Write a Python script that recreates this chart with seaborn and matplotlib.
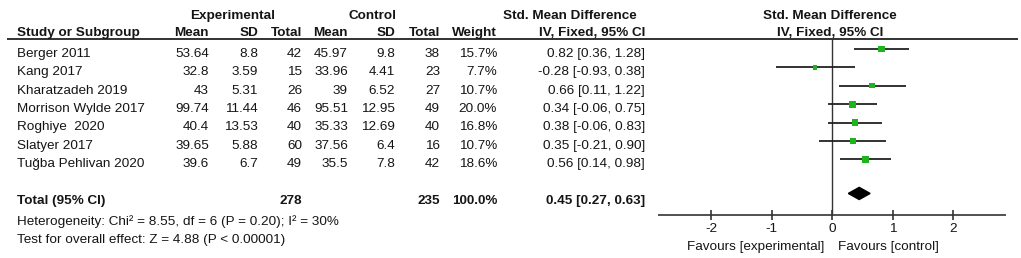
import matplotlib
matplotlib.use("Agg")
import matplotlib.pyplot as plt
import seaborn as sns
import pandas as pd
import numpy as np

studies = ['Berger 2011', 'Kang 2017', 'Kharatzadeh 2019', 'Morrison Wylde 2017',
           'Roghiye  2020', 'Slatyer 2017', 'Tuğba Pehlivan 2020']
exp_mean = [53.64, 32.8, 43, 99.74, 40.4, 39.65, 39.6]
exp_sd = [8.8, 3.59, 5.31, 11.44, 13.53, 5.88, 6.7]
exp_n = [42, 15, 26, 46, 40, 60, 49]
ctl_mean = [45.97, 33.96, 39, 95.51, 35.33, 37.56, 35.5]
ctl_sd = [9.8, 4.41, 6.52, 12.95, 12.69, 6.4, 7.8]
ctl_n = [38, 23, 27, 49, 40, 16, 42]
weight = [15.7, 7.7, 10.7, 20.0, 16.8, 10.7, 18.6]
smd = [0.82, -0.28, 0.66, 0.34, 0.38, 0.35, 0.56]
ci_lo = [0.36, -0.93, 0.11, -0.06, -0.06, -0.21, 0.14]
ci_hi = [1.28, 0.38, 1.22, 0.75, 0.83, 0.90, 0.98]
total_smd, total_lo, total_hi = 0.45, 0.27, 0.63
total_exp_n, total_ctl_n, total_weight = 278, 235, 100.0
het_text = 'Heterogeneity: Chi² = 8.55, df = 6 (P = 0.20); I² = 30%'
test_text = 'Test for overall effect: Z = 4.88 (P < 0.00001)'
ticks = [-2, -1, 0, 1, 2]

df = pd.DataFrame({'study': studies, 'smd': smd, 'lo': ci_lo, 'hi': ci_hi,
                   'weight': weight, 'row': np.arange(len(studies))})
total_row = len(studies) + 1

sns.set_style("white")
plt.rcParams['font.family'] = ['Liberation Sans', 'DejaVu Sans']
fs = 9.7
txt = '#151515'

fig = plt.figure(figsize=(10.21, 2.58), dpi=100)
# row r sits at pixel 49 + 18.4*r
ylim = ((258 - 49) / 18.4, -49 / 18.4)

tab = fig.add_axes([0, 0, 1, 1])
tab.set_xlim(0, 1021)
tab.set_ylim(*ylim)
tab.axis('off')

fp = fig.add_axes([0, 0, 1, 1], sharey=tab)
fp.set_xlim(-832 / 60.5, 189 / 60.5)
fp.patch.set_alpha(0)
fp.axis('off')

# header
tab.text(233, -1.63, 'Experimental', ha='center', va='baseline', fontsize=fs, fontweight='bold', color=txt)
tab.text(372, -1.63, 'Control', ha='center', va='baseline', fontsize=fs, fontweight='bold', color=txt)
tab.text(570, -1.63, 'Std. Mean Difference', ha='center', va='baseline', fontsize=fs, fontweight='bold', color=txt)
tab.text(830, -1.63, 'Std. Mean Difference', ha='center', va='baseline', fontsize=fs, fontweight='bold', color=txt)
hy = -0.71
tab.text(17, hy, 'Study or Subgroup', ha='left', va='baseline', fontsize=fs, fontweight='bold', color=txt)
cols = [209, 258, 302, 348, 395, 440, 497]
for x, lab in zip(cols, ['Mean', 'SD', 'Total', 'Mean', 'SD', 'Total', 'Weight']):
    tab.text(x, hy, lab, ha='right', va='baseline', fontsize=fs, fontweight='bold', color=txt)
tab.text(645, hy, 'IV, Fixed, 95% CI', ha='right', va='baseline', fontsize=fs, fontweight='bold', color=txt)
tab.text(830, hy, 'IV, Fixed, 95% CI', ha='center', va='baseline', fontsize=fs, fontweight='bold', color=txt)
tab.hlines(-0.543, 7, 1018, color='#222222', lw=1.3)

# study rows
for i, r in df.iterrows():
    y = r['row'] + 0.42
    vals = [f"{exp_mean[i]:g}", f"{exp_sd[i]:g}", f"{exp_n[i]}", f"{ctl_mean[i]:g}",
            f"{ctl_sd[i]:g}", f"{ctl_n[i]}", f"{weight[i]:.1f}%"]
    tab.text(17, y, r['study'], ha='left', va='baseline', fontsize=fs, color=txt)
    for x, v in zip(cols, vals):
        tab.text(x, y, v, ha='right', va='baseline', fontsize=fs, color=txt)
    tab.text(645, y, f"{smd[i]:.2f} [{ci_lo[i]:.2f}, {ci_hi[i]:.2f}]", ha='right', va='baseline',
             fontsize=fs, color=txt)

# total row
ty = total_row + 0.42
tab.text(17, ty, 'Total (95% CI)', ha='left', va='baseline', fontsize=fs, fontweight='bold', color=txt)
tab.text(cols[2], ty, f"{total_exp_n}", ha='right', va='baseline', fontsize=fs, fontweight='bold', color=txt)
tab.text(cols[5], ty, f"{total_ctl_n}", ha='right', va='baseline', fontsize=fs, fontweight='bold', color=txt)
tab.text(cols[6], ty, f"{total_weight:.1f}%", ha='right', va='baseline', fontsize=fs, fontweight='bold', color=txt)
tab.text(645, ty, f"{total_smd:.2f} [{total_lo:.2f}, {total_hi:.2f}]", ha='right', va='baseline',
         fontsize=fs, fontweight='bold', color=txt)
tab.text(17, 9.57, het_text, ha='left', va='baseline', fontsize=fs, color=txt)
tab.text(17, 10.54, test_text, ha='left', va='baseline', fontsize=fs, color=txt)

# forest plot
fp.vlines(0, -0.543, 9.02, color='#333333', lw=1.0)
fp.hlines(df['row'], df['lo'], df['hi'], color='#222222', lw=1.3)
sns.scatterplot(data=df, x='smd', y='row', size='weight', sizes=(0, 28), size_norm=(0, 20),
                marker='s', color='#1db41d', edgecolor='#1db41d', linewidth=0, legend=False, ax=fp, zorder=3)
h = 0.33
fp.fill([total_lo, total_smd, total_hi, total_smd], [total_row - 0.15, total_row - 0.15 - h, total_row - 0.15, total_row - 0.15 + h],
        color='black')
fp.hlines(9.02, -2.88, 2.88, color='#333333', lw=1.2)
fp.vlines(ticks, 8.75, 9.27, color='#333333', lw=1.2)
for t in ticks:
    fp.text(t, 9.95, f"{t}", ha='center', va='baseline', fontsize=fs, color=txt)
fp.text(-0.12, 10.92, 'Favours [experimental]', ha='right', va='baseline', fontsize=fs, color=txt)
fp.text(0.1, 10.92, 'Favours [control]', ha='left', va='baseline', fontsize=fs, color=txt)
fp.set_xlabel('')
fp.set_ylabel('')

plt.savefig('out.png', dpi=100)
